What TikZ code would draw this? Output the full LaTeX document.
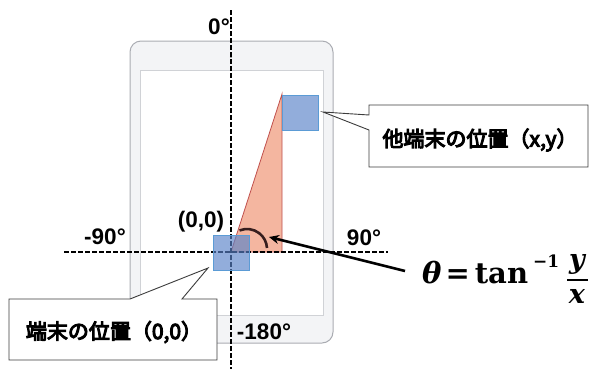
\documentclass[tikz,border=0pt]{standalone}
\usepackage[no-math]{fontspec}
\setmainfont{Liberation Sans}[BoldFont={Liberation Sans Bold}]
\newfontfamily\jp{Noto Sans CJK JP}[FakeBold=5]
\newfontfamily\mathser{DejaVu Serif}
\usetikzlibrary{arrows.meta}
\definecolor{tabfill}{RGB}{243,244,246}
\definecolor{tabedge}{RGB}{170,172,178}
\definecolor{scredge}{RGB}{208,210,214}
\definecolor{trifill}{RGB}{244,182,160}
\definecolor{triedge}{RGB}{192,80,77}
\definecolor{boxfill}{RGB}{88,130,200}
\definecolor{boxedge}{RGB}{91,155,213}
\definecolor{arccol}{RGB}{55,30,30}
\definecolor{calledge}{RGB}{60,60,60}
\tikzset{
  axis/.style={line width=1.6bp, dash pattern=on 4.5bp off 2.5bp},
  bluebox/.style={draw=boxedge, line width=0.9bp, fill=boxfill, fill opacity=0.65, minimum width=36bp, minimum height=35bp, inner sep=0pt},
  anglelbl/.style={font=\bfseries\fontsize{22.5bp}{25bp}\selectfont, inner sep=0pt},
  callout/.style={draw=calledge, line width=0.9bp, fill=white},
  calltext/.style={font=\jp\fontsize{21bp}{24bp}\selectfont, inner sep=0pt},
  formtext/.style={font=\mathser\bfseries\fontsize{29bp}{31bp}\selectfont, inner sep=0pt},
  formsup/.style={font=\mathser\bfseries\fontsize{17bp}{19bp}\selectfont, inner sep=0pt},
  formfrac/.style={font=\mathser\bfseries\itshape\fontsize{27bp}{29bp}\selectfont, inner sep=0pt}
}
\begin{document}
\begin{tikzpicture}[x=1bp, y=-1bp]
\useasboundingbox (0,0) rectangle (590,369);
% tablet
\draw[tabedge, line width=1bp, fill=tabfill, rounded corners=11bp] (130,41) rectangle (333,343);
\draw[scredge, line width=0.9bp, fill=white] (140,70) rectangle (323,315);
\fill[gray] (231,57) circle (1.2bp);
% triangle
\draw[triedge, line width=0.8bp, fill=trifill] (231,252) -- (282,252) -- (282,94) -- cycle;
% axes
\coordinate (vtop) at (231,10);
\coordinate (vbot) at (231,369);
\coordinate (hleft) at (64,252);
\coordinate (hright) at (388,252);
\draw[axis] (vtop) -- (vbot);
\draw[axis] (hleft) -- (hright);
% squares
\node[bluebox] (origin) at (231,252.5) {};
\node[bluebox] (other) at (300,112.5) {};
% angle arc
\draw[arccol, line width=2.6bp] (247,249) ++(-112:20) arc[start angle=-112, end angle=-3, radius=20];
% labels
\node[anglelbl] (l0) at (219,27) {0°};
\node[anglelbl] (lm90) at (105,237) {-90°};
\node[anglelbl] (l90) at (364,238) {90°};
\node[anglelbl] (lm180) at (264,332) {-180°};
\node[anglelbl] (l00) at (201,222) {(0,0)};
% formula
\node[formtext, anchor=base west] (formula) at (422,283) {{\itshape θ}\hspace{4bp}=\hspace{5bp}tan};
\node[formsup, anchor=base west] (fsup) at (533,267) {−1};
\node[formfrac, anchor=base] (fnum) at (577,268) {y};
\node[formfrac, anchor=base] (fden) at (577,303) {x};
\coordinate (fbarl) at (567,280);
\coordinate (fbarr) at (588,280);
\draw[line width=1.6bp] (fbarl) -- (fbarr);
\coordinate (arrowstart) at (405,271);
\coordinate (arrowtip) at (269,237);
\draw[line width=2.6bp, -{Stealth[length=10bp,width=9bp]}] (arrowstart) -- (arrowtip);
% callout 1
\coordinate (tip1) at (323,112);
\draw[callout] (369,105) -- (588,105) -- (588,167) -- (369,167) -- (369,130) -- (tip1) -- (369,115) -- cycle;
\node[calltext] (c1) at (480,140) {他端末の位置（x,y）};
% callout 2
\coordinate (tip2) at (208,268);
\draw[callout] (9,299) -- (130,299) -- (tip2) -- (182,299) -- (217,299) -- (217,360) -- (9,360) -- cycle;
\node[calltext] (c2) at (114,332) {端末の位置（0,0）};
\end{tikzpicture}
\end{document}
